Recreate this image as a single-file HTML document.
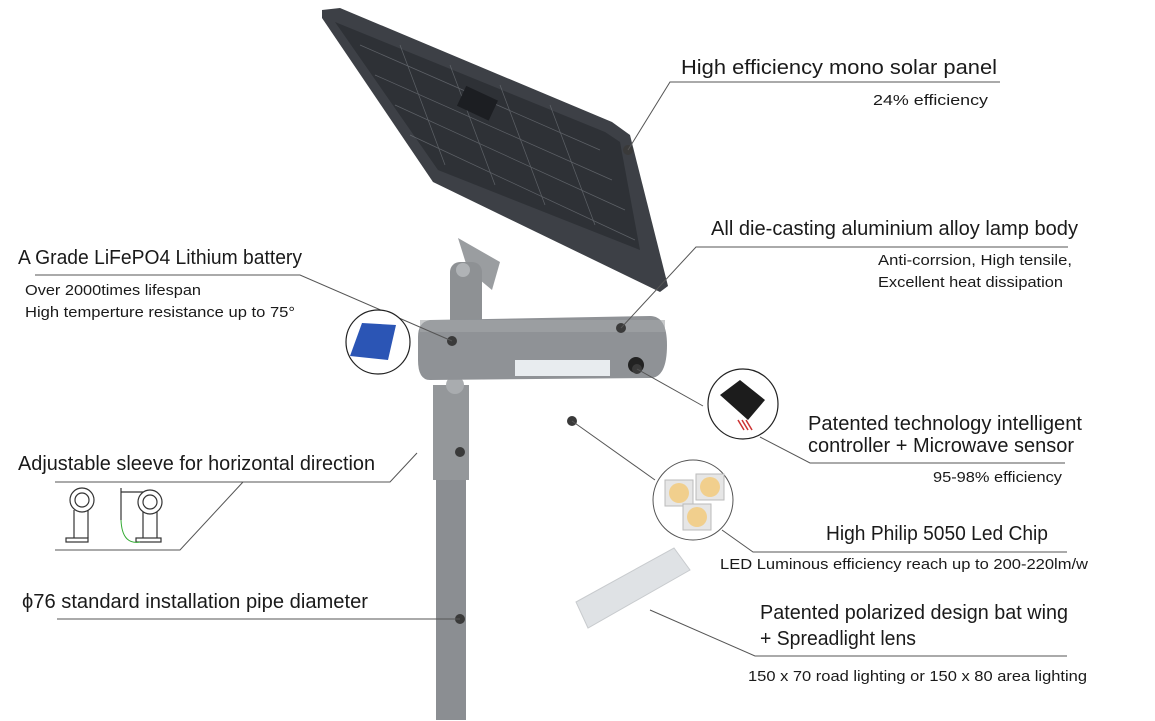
<!DOCTYPE html>
<html><head><meta charset="utf-8"><style>
html,body{margin:0;padding:0;background:#fff;}
svg{display:block;}
text{font-family:"Liberation Sans",sans-serif;fill:#1a1a1a;}
.t{font-size:20px;}
.s{font-size:15px;}
</style></head><body>
<svg width="1155" height="721" viewBox="0 0 1155 721" xmlns="http://www.w3.org/2000/svg">
<polygon points="322,10 340,8 612,122 630,135 668,286 660,292 433,182 322,18" fill="#3d4046"/>
<polygon points="335,22 605,132 620,142 640,250 438,170" fill="#2e3136"/>
<g stroke="#6a6e74" stroke-width="0.7" opacity="0.8">
<line x1="360" y1="45" x2="600" y2="150"/><line x1="375" y1="75" x2="612" y2="180"/>
<line x1="395" y1="105" x2="625" y2="210"/><line x1="410" y1="135" x2="635" y2="240"/>
<line x1="400" y1="45" x2="445" y2="165"/><line x1="450" y1="65" x2="495" y2="185"/>
<line x1="500" y1="85" x2="545" y2="205"/><line x1="550" y1="105" x2="595" y2="225"/>
</g>
<rect x="460" y="92" width="35" height="22" fill="#1c1e22" transform="rotate(25 477 103)"/>
<polygon points="458,238 500,262 492,290 468,270" fill="#9a9da0"/>
<rect x="450" y="262" width="32" height="70" rx="10" fill="#8e9194"/>
<circle cx="463" cy="270" r="7" fill="#b0b3b6"/>
<rect x="436" y="470" width="30" height="250" fill="#8b8e92"/>
<rect x="433" y="385" width="36" height="95" fill="#94979a"/>
<circle cx="455" cy="385" r="9" fill="#a9acaf"/>
<path d="M418,337 Q418,322 430,320 L650,316 Q667,316 667,345 Q667,378 650,378 L430,380 Q418,380 418,360 Z" fill="#8f9296"/>
<rect x="420" y="320" width="245" height="12" fill="#a3a6a9" opacity="0.6"/>
<rect x="515" y="360" width="95" height="16" fill="#e8ecef"/>
<circle cx="636" cy="365" r="8" fill="#222"/>
<g fill="#3a3a3a">
<circle cx="628" cy="150" r="5"/><circle cx="621" cy="328" r="5"/><circle cx="452" cy="341" r="5"/>
<circle cx="460" cy="452" r="5"/><circle cx="460" cy="619" r="5"/><circle cx="572" cy="421" r="5"/><circle cx="637" cy="369" r="5"/>
</g>
<g stroke="#555" stroke-width="1" fill="none">
<polyline points="628,150 670,82 1000,82"/>
<polyline points="621,328 696,247 1068,247"/>
<polyline points="35,275 300,275 452,341"/>
<polyline points="55,482 390,482 417,453"/>
<polyline points="55,550 180,550 243,482"/>
<polyline points="57,619 460,619"/>
<line x1="637" y1="369" x2="703" y2="406"/>
<polyline points="760,437 810,463 1065,463"/>
<line x1="572" y1="421" x2="655" y2="480"/>
<polyline points="722,530 753,552 1067,552"/>
<polyline points="650,610 755,656 1067,656"/>
</g>
<circle cx="378" cy="342" r="32" fill="#fff" stroke="#222" stroke-width="1.2"/>
<polygon points="362,323 396,325 388,360 350,356" fill="#2b55b5"/>
<circle cx="743" cy="404" r="35" fill="#fff" stroke="#222" stroke-width="1.2"/>
<polygon points="720,395 740,380 765,400 748,420" fill="#1c1c1c"/>
<g stroke="#c33" stroke-width="1.5"><line x1="738" y1="420" x2="744" y2="430"/><line x1="742" y1="420" x2="748" y2="430"/><line x1="746" y1="420" x2="752" y2="430"/></g>
<circle cx="693" cy="500" r="40" fill="#fff" stroke="#555" stroke-width="1"/>
<g fill="#e6e6e6" stroke="#bbb"><rect x="665" y="480" width="28" height="26"/><rect x="696" y="474" width="28" height="26"/><rect x="683" y="504" width="28" height="26"/></g>
<g fill="#f1cf8d"><circle cx="679" cy="493" r="10"/><circle cx="710" cy="487" r="10"/><circle cx="697" cy="517" r="10"/></g>
<polygon points="576,602 674,548 690,570 588,628" fill="#dfe2e5" stroke="#c8cbce"/>
<text class="t" x="681" y="74" textLength="316" lengthAdjust="spacingAndGlyphs">High efficiency mono solar panel</text>
<text class="s" x="873" y="105" textLength="115" lengthAdjust="spacingAndGlyphs">24% efficiency</text>
<text class="t" x="711" y="235" textLength="367" lengthAdjust="spacingAndGlyphs">All die-casting aluminium alloy lamp body</text>
<text class="s" x="878" y="265" textLength="194" lengthAdjust="spacingAndGlyphs">Anti-corrsion, High tensile,</text>
<text class="s" x="878" y="287" textLength="185" lengthAdjust="spacingAndGlyphs">Excellent heat dissipation</text>
<text class="t" x="18" y="264" textLength="284" lengthAdjust="spacingAndGlyphs">A Grade LiFePO4 Lithium battery</text>
<text class="s" x="25" y="295" textLength="176" lengthAdjust="spacingAndGlyphs">Over 2000times lifespan</text>
<text class="s" x="25" y="317" textLength="270" lengthAdjust="spacingAndGlyphs">High temperture resistance up to 75°</text>
<text class="t" x="808" y="430" textLength="274" lengthAdjust="spacingAndGlyphs">Patented technology intelligent</text>
<text class="t" x="808" y="452" textLength="266" lengthAdjust="spacingAndGlyphs">controller + Microwave sensor</text>
<text class="s" x="933" y="482" textLength="129" lengthAdjust="spacingAndGlyphs">95-98% efficiency</text>
<text class="t" x="826" y="540" textLength="222" lengthAdjust="spacingAndGlyphs">High Philip 5050 Led Chip</text>
<text class="s" x="720" y="569" textLength="368" lengthAdjust="spacingAndGlyphs">LED Luminous efficiency reach up to 200-220lm/w</text>
<text class="t" x="760" y="619" textLength="308" lengthAdjust="spacingAndGlyphs">Patented polarized design bat wing</text>
<text class="t" x="760" y="645" textLength="156" lengthAdjust="spacingAndGlyphs">+ Spreadlight lens</text>
<text class="s" x="748" y="681" textLength="339" lengthAdjust="spacingAndGlyphs">150 x 70 road lighting or 150 x 80 area lighting</text>
<text class="t" x="18" y="470" textLength="357" lengthAdjust="spacingAndGlyphs">Adjustable sleeve for horizontal direction</text>
<text class="t" x="22" y="608" textLength="346" lengthAdjust="spacingAndGlyphs">ϕ76 standard installation pipe diameter</text>
<g stroke="#333" stroke-width="1.2" fill="none">
<circle cx="82" cy="500" r="12"/><circle cx="82" cy="500" r="7"/>
<line x1="74" y1="510" x2="74" y2="538"/><line x1="88" y1="510" x2="88" y2="538"/>
<rect x="66" y="538" width="22" height="4"/>
<line x1="121" y1="488" x2="121" y2="520"/><line x1="121" y1="492" x2="143" y2="492"/>
<circle cx="150" cy="502" r="12"/><circle cx="150" cy="502" r="7"/>
<line x1="143" y1="512" x2="143" y2="538"/><line x1="157" y1="512" x2="157" y2="538"/>
<rect x="136" y="538" width="25" height="4"/>
</g>
<path d="M121,520 Q122,545 140,542" stroke="#3a3" fill="none"/>
</svg>
</body></html>
